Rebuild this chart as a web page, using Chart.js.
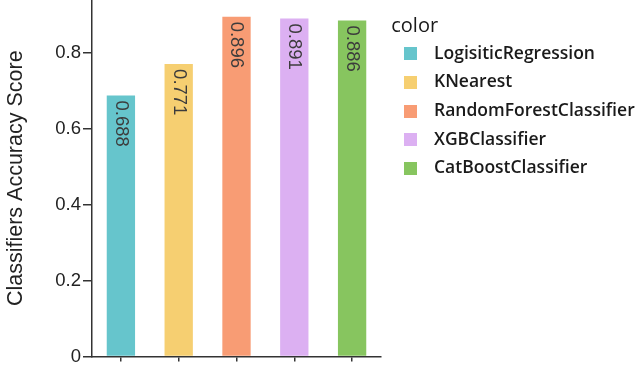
<!DOCTYPE html>
<html>
<head>
<meta charset="utf-8">
<script src="https://cdn.jsdelivr.net/npm/chart.js@4/dist/chart.umd.min.js"></script>
<style>
html,body{margin:0;padding:0;background:#fff;}
#wrap{width:640px;height:366px;position:relative;}
</style>
</head>
<body>
<div id="wrap"><canvas id="c" width="640" height="366"></canvas></div>
<script>
const categories = ["LogisiticRegression", "KNearest", "RandomForestClassifier", "XGBClassifier", "CatBoostClassifier"];
const scores = [0.688, 0.771, 0.896, 0.891, 0.886];
const valueLabels = ["0.688", "0.771", "0.896", "0.891", "0.886"];
const barColors = ["rgb(102,197,204)", "rgb(246,207,113)", "rgb(248,156,116)", "rgb(220,176,242)", "rgb(135,197,95)"];
const yTicks = [0, 0.2, 0.4, 0.6, 0.8];
const legendTitle = "color";
const yTitle = "Classifiers Accuracy Score";

function swatch(color) {
  const c = document.createElement('canvas');
  c.width = 13; c.height = 13;
  const g = c.getContext('2d');
  g.fillStyle = color;
  g.fillRect(0, 0, 13, 13);
  return c;
}
const swatches = barColors.map(swatch);

const helperPlugin = {
  id: 'helper',
  afterInit(chart) {
    const lg = chart.legend;
    if (lg && !lg._patched) {
      const orig = lg.fit.bind(lg);
      lg.fit = function () { orig(); this.width = 259; };
      lg._patched = true;
    }
  },
  afterLayout(chart) {
    const lg = chart.legend;
    if (lg) { lg.left += 10.25; lg.right += 10.25; }
  },
  afterDatasetsDraw(chart) {
    const ctx = chart.ctx;
    const meta = chart.getDatasetMeta(0);
    ctx.save();
    ctx.fillStyle = '#3c3c3c';
    ctx.font = '18.5px "Liberation Sans", Arial, sans-serif';
    ctx.textAlign = 'left';
    ctx.textBaseline = 'middle';
    meta.data.forEach((bar, i) => {
      ctx.save();
      ctx.translate(bar.x, bar.y + 5);
      ctx.rotate(Math.PI / 2);
      ctx.fillText(valueLabels[i], 0, 0);
      ctx.restore();
    });
    ctx.restore();
  }
};

const chart = new Chart(document.getElementById('c'), {
  type: 'bar',
  data: {
    labels: categories,
    datasets: [{
      data: scores,
      backgroundColor: barColors,
      borderWidth: 0,
      barPercentage: 0.49,
      categoryPercentage: 1.0
    }]
  },
  options: {
    responsive: false,
    animation: false,
    layout: { padding: 0 },
    plugins: {
      tooltip: { enabled: false },
      legend: {
        position: 'right',
        align: 'start',
        maxWidth: 400,
        title: {
          display: true,
          text: legendTitle,
          position: 'start',
          color: '#1a1a1a',
          font: { family: '"Open Sans", sans-serif', size: 20, lineHeight: 1.0 },
          padding: { top: 16, bottom: 4.4 }
        },
        labels: {
          usePointStyle: true,
          pointStyleWidth: 29.5,
          boxWidth: 13,
          boxHeight: 13,
          padding: 4.5,
          color: '#1a1a1a',
          font: { family: '"Open Sans", sans-serif', size: 17.5, weight: '600', lineHeight: 1.383 },
          generateLabels() {
            return categories.map((c, i) => ({
              text: [c],
              fillStyle: barColors[i],
              strokeStyle: barColors[i],
              pointStyle: swatches[i],
              lineWidth: 0,
              hidden: false,
              index: i
            }));
          }
        }
      }
    },
    scales: {
      x: {
        offset: true,
        afterFit(axis) { axis.height = 9.5; },
        border: { display: true, color: '#333', width: 1.5 },
        grid: { display: true, drawOnChartArea: false, drawTicks: true, tickLength: 5, offset: false, color: '#333', lineWidth: 1.5 },
        ticks: { display: false }
      },
      y: {
        min: 0,
        max: 0.94,
        afterBuildTicks(axis) { axis.ticks = yTicks.map(v => ({ value: v })); },
        afterFit(axis) { axis.width = 92; axis.paddingTop = 0; axis.paddingBottom = 0; },
        border: { display: true, color: '#333', width: 1.5 },
        grid: { display: true, drawOnChartArea: false, drawTicks: true, tickLength: 9, color: '#333', lineWidth: 1.5 },
        ticks: {
          color: '#222',
          padding: 2,
          font: { family: '"Liberation Sans", Arial, sans-serif', size: 18.5 },
          callback(v) { return v === 0 ? '0' : String(Math.round(v * 10) / 10); }
        },
        title: {
          display: true,
          text: yTitle,
          color: '#222',
          font: { family: '"Liberation Sans", Arial, sans-serif', size: 21.5, lineHeight: 1.2 },
          padding: { top: 3, bottom: 0 }
        }
      }
    }
  },
  plugins: [helperPlugin]
});
</script>
</body>
</html>
